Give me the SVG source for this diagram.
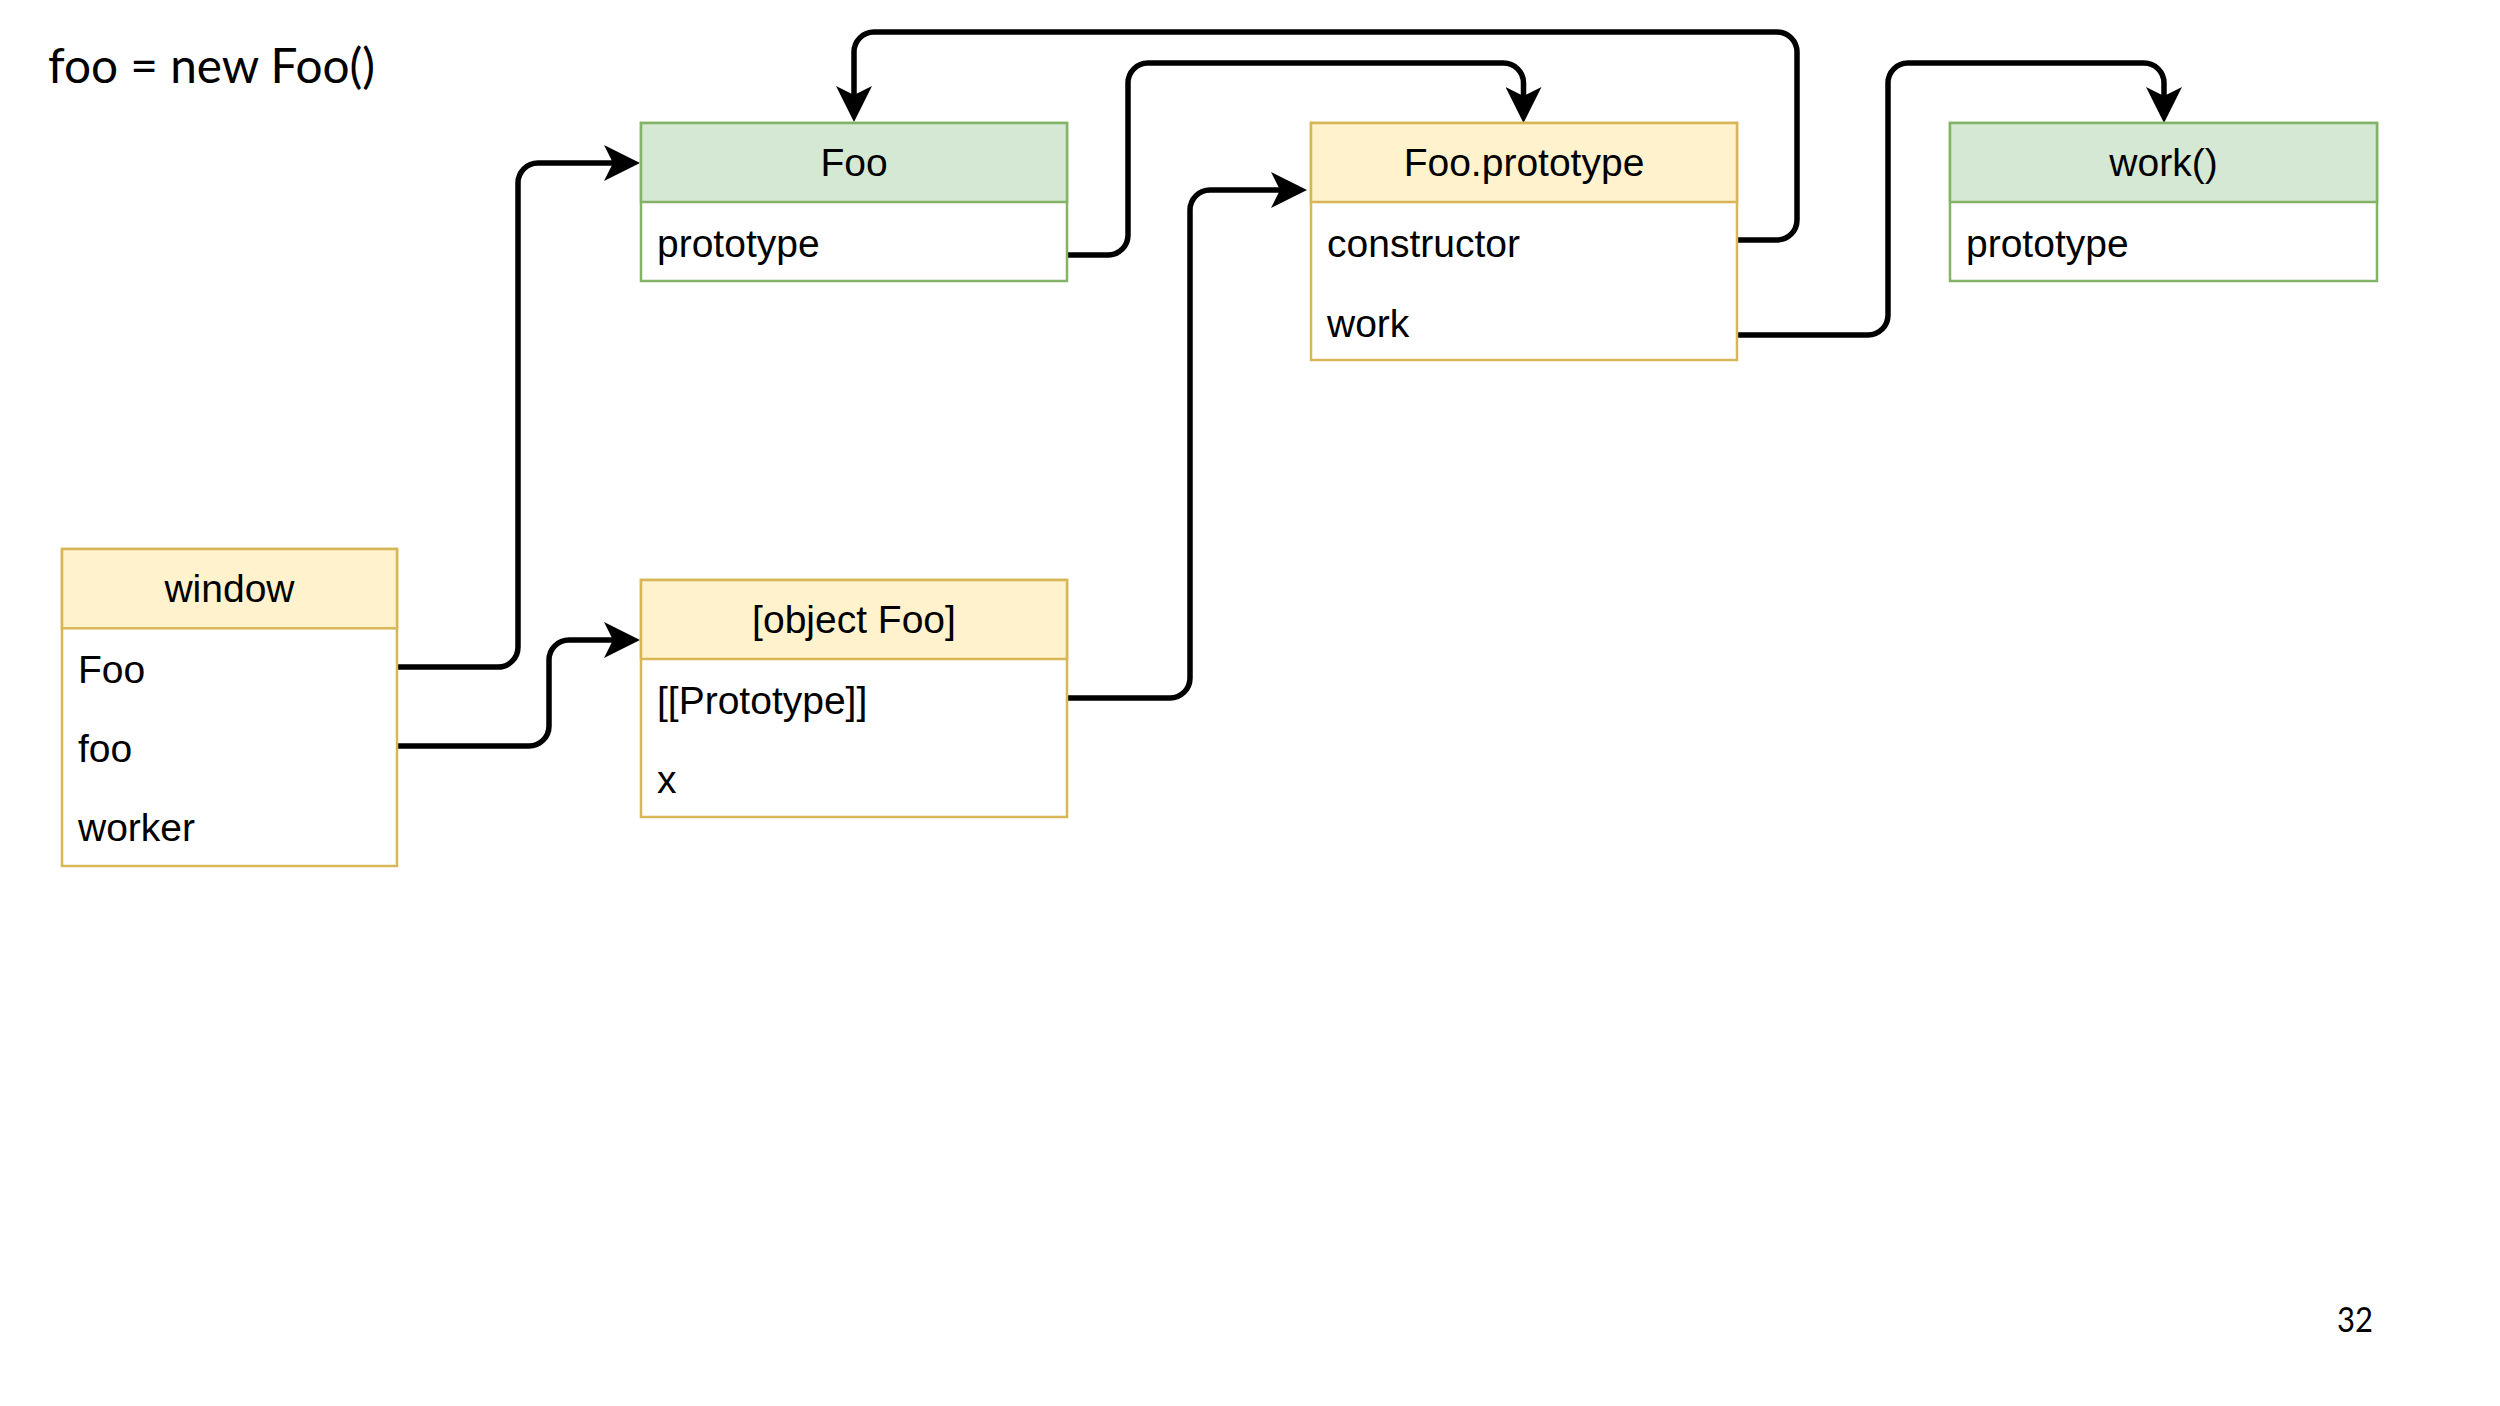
<svg xmlns="http://www.w3.org/2000/svg" width="2500" height="1406" viewBox="0 0 2500 1406">
<defs>
<style>
.g{fill:#d5e8d4;stroke:#82b366;stroke-width:2.5}
.gw{fill:#ffffff;stroke:#82b366;stroke-width:2.5}
.y{fill:#fff2cc;stroke:#d6b656;stroke-width:2.5}
.yw{fill:#ffffff;stroke:#d6b656;stroke-width:2.5}
.t{font-family:"Liberation Sans",Arial,sans-serif;font-size:39px;fill:#000}
.c{text-anchor:middle}
.e{fill:none;stroke:#000;stroke-width:5.5;marker-end:url(#arr)}
.s{font-family:Lato,"Open Sans",sans-serif;fill:#000}
</style>
<marker id="arr" markerUnits="userSpaceOnUse" markerWidth="36" markerHeight="36" refX="9" refY="18" orient="auto">
<path d="M36,18 L0,0 L9,18 L0,36 Z" fill="#000"/>
</marker>
</defs>
<rect width="2500" height="1406" fill="#fff"/>
<text class="s" x="48" y="83" font-size="48" textLength="327" lengthAdjust="spacingAndGlyphs">foo = new Foo()</text>
<text class="s" x="2337" y="1332" font-size="34" textLength="36" lengthAdjust="spacingAndGlyphs">32</text>

<g id="connectors">
<path class="e" d="M397,667 H498 A20,20 0 0 0 518,647 V183 A20,20 0 0 1 538,163 H613"/>
<path class="e" d="M397,746 H529 A20,20 0 0 0 549,726 V660 A20,20 0 0 1 569,640 H613"/>
<path class="e" d="M1067,255 H1108 A20,20 0 0 0 1128,235 V83 A20,20 0 0 1 1148,63 H1503.5 A20,20 0 0 1 1523.5,83 V96"/>
<path class="e" d="M1737,240 H1777 A20,20 0 0 0 1797,220 V52 A20,20 0 0 0 1777,32 H874 A20,20 0 0 0 854,52 V95"/>
<path class="e" d="M1737,335 H1868 A20,20 0 0 0 1888,315 V83 A20,20 0 0 1 1908,63 H2144 A20,20 0 0 1 2164,83 V96"/>
<path class="e" d="M1067,698 H1170 A20,20 0 0 0 1190,678 V210 A20,20 0 0 1 1210,190 H1280"/>
</g>

<g id="node-foo">
<rect class="gw" x="641" y="123" width="426" height="158"/>
<rect class="g" x="641" y="123" width="426" height="79"/>
<text class="t c" x="854" y="176">Foo</text>
<text class="t" x="657" y="257">prototype</text>
</g>

<g id="node-foo-prototype">
<rect class="yw" x="1311" y="123" width="426" height="237"/>
<rect class="y" x="1311" y="123" width="426" height="79"/>
<text class="t c" x="1524" y="176">Foo.prototype</text>
<text class="t" x="1327" y="257">constructor</text>
<text class="t" x="1327" y="336.5">work</text>
</g>

<g id="node-work">
<rect class="gw" x="1950" y="123" width="427" height="158"/>
<rect class="g" x="1950" y="123" width="427" height="79"/>
<text class="t c" x="2163.5" y="176">work()</text>
<text class="t" x="1966" y="257">prototype</text>
</g>

<g id="node-window">
<rect class="yw" x="62" y="549" width="335" height="317"/>
<rect class="y" x="62" y="549" width="335" height="79.3"/>
<text class="t c" x="229.5" y="601.7">window</text>
<text class="t" x="78" y="682.7">Foo</text>
<text class="t" x="78" y="762">foo</text>
<text class="t" x="78" y="841">worker</text>
</g>

<g id="node-object-foo">
<rect class="yw" x="641" y="580" width="426" height="237"/>
<rect class="y" x="641" y="580" width="426" height="79"/>
<text class="t c" x="854" y="633">[object Foo]</text>
<text class="t" x="657" y="713.5">[[Prototype]]</text>
<text class="t" x="657" y="793">x</text>
</g>
</svg>
